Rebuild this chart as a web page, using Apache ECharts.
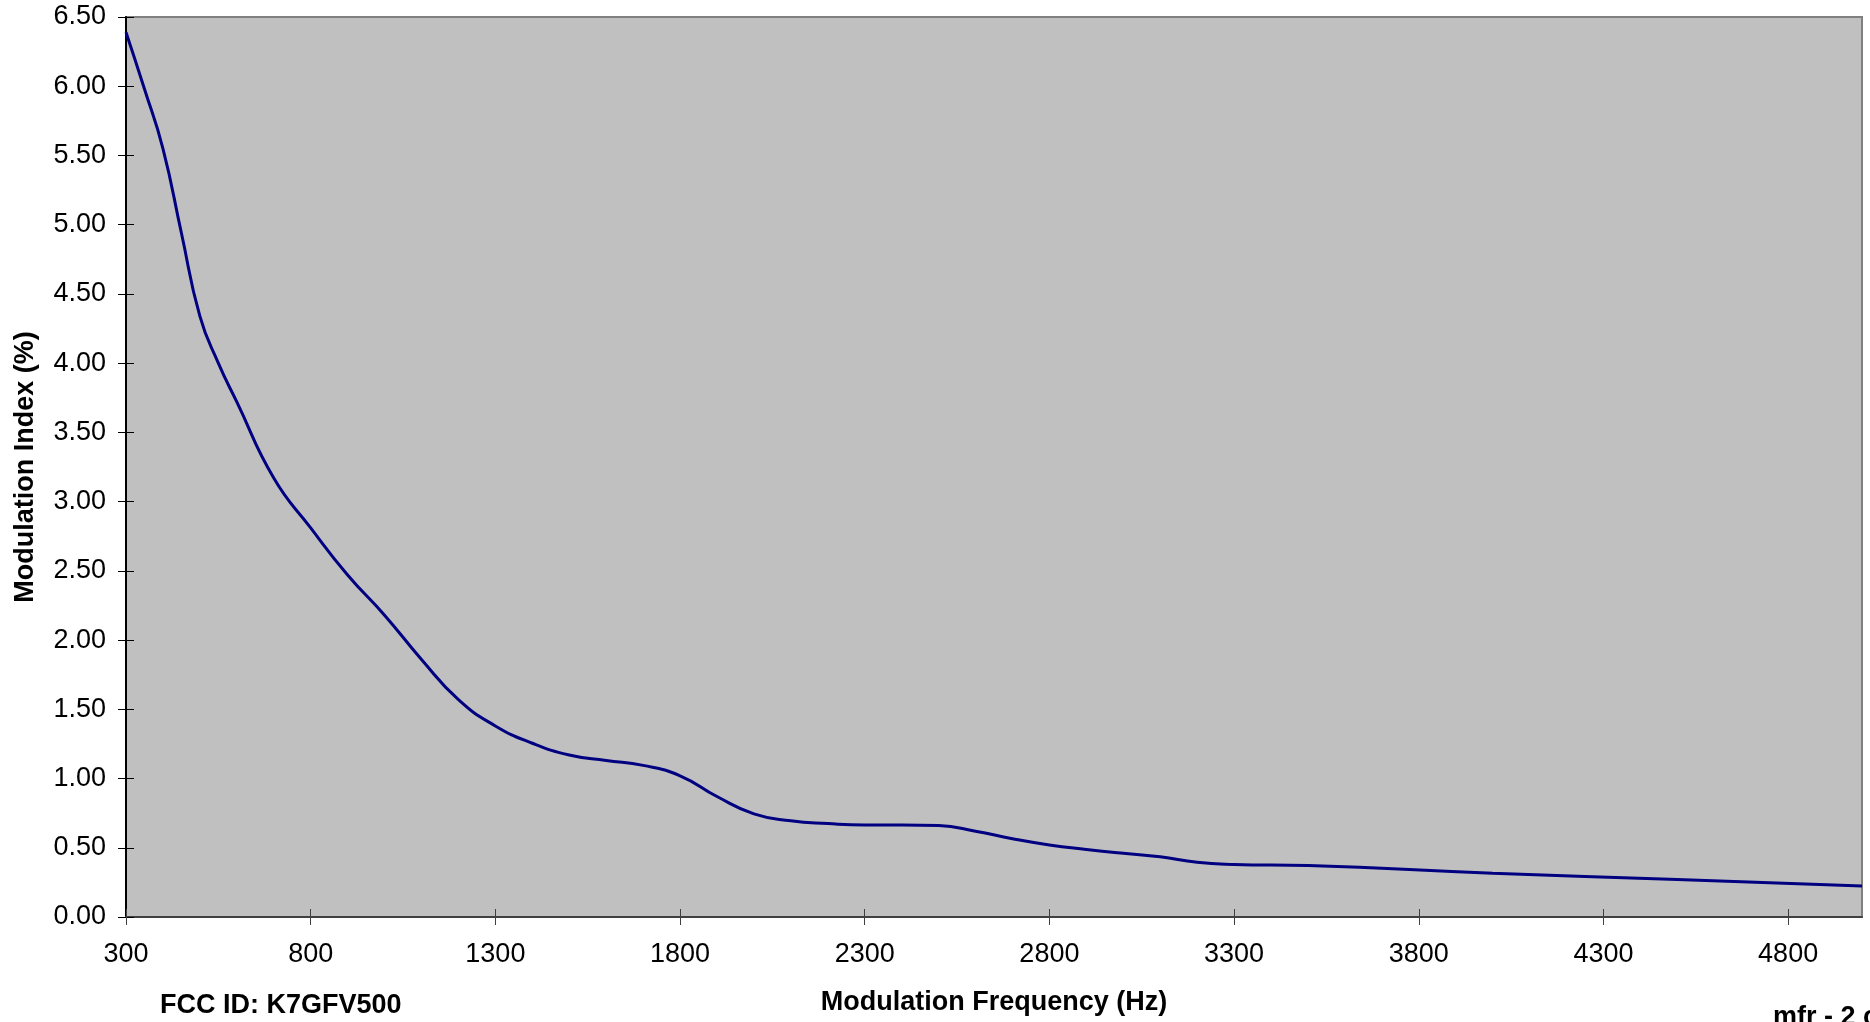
<!DOCTYPE html>
<html>
<head>
<meta charset="utf-8">
<script src="https://cdn.jsdelivr.net/npm/echarts@6/dist/echarts.min.js"></script>
<style>
  html, body { margin: 0; padding: 0; background: #ffffff; }
  #chart { width: 1870px; height: 1022px; }
</style>
</head>
<body>
<div id="chart"></div>
<script>
// Data
const frequencies = [300, 350, 400, 450, 500, 550, 600, 700, 800, 900, 1000, 1100, 1200, 1300, 1400, 1500, 1600, 1700, 1800, 1900, 2000, 2100, 2200, 2300, 2400, 2500, 2600, 2700, 2800, 2900, 3000, 3100, 3200, 3300, 3500, 4000, 4500, 5000];
const modulationIndex = [6.39, 5.98, 5.55, 4.94, 4.34, 4.0, 3.72, 3.17, 2.81, 2.47, 2.18, 1.86, 1.57, 1.38, 1.255, 1.17, 1.13, 1.095, 1.02, 0.87, 0.745, 0.695, 0.675, 0.665, 0.665, 0.66, 0.62, 0.565, 0.52, 0.488, 0.46, 0.435, 0.395, 0.38, 0.372, 0.316, 0.27, 0.224];
const xTickValues = [300, 800, 1300, 1800, 2300, 2800, 3300, 3800, 4300, 4800];
const yTickValues = [0, 0.5, 1, 1.5, 2, 2.5, 3, 3.5, 4, 4.5, 5, 5.5, 6, 6.5];
const xTitle = 'Modulation Frequency (Hz)';
const yTitle = 'Modulation Index (%)';
const footLeft = 'FCC ID: K7GFV500';
const footRight = 'mfr - 2 of 2';

const FONT = '"Liberation Sans", Arial, Helvetica, sans-serif';
const chart = echarts.init(document.getElementById('chart'), null, { renderer: 'canvas' });

const seriesData = frequencies.map((f, i) => [f, modulationIndex[i]]);

chart.setOption({
  animation: false,
  backgroundColor: '#ffffff',
  textStyle: { fontFamily: FONT },
  grid: {
    left: 126, right: 8, top: 17, bottom: 105,
    containLabel: false,
    outerBoundsMode: 'none',
    show: true,
    backgroundColor: '#c0c0c0',
    borderColor: '#808080',
    borderWidth: 2
  },
  xAxis: [{
    type: 'value',
    min: 300, max: 5000, interval: 500,
    position: 'bottom',
    name: xTitle,
    nameLocation: 'middle',
    nameGap: 72,
    nameTextStyle: { fontFamily: FONT, fontSize: 27, fontWeight: 'bold', color: '#000' },
    axisLine: { show: true, onZero: false, lineStyle: { color: '#404040', width: 2 } },
    axisTick: { show: true, inside: false, length: 8, customValues: xTickValues, lineStyle: { color: '#404040', width: 1 } },
    axisLabel: { show: true, customValues: xTickValues, margin: 24, fontFamily: FONT, fontSize: 27, color: '#000',
      formatter: v => String(v) },
    splitLine: { show: false }
  }, {
    type: 'value',
    min: 300, max: 5000, interval: 500,
    position: 'bottom',
    axisLine: { show: false },
    axisTick: { show: true, inside: true, length: 8, customValues: xTickValues, lineStyle: { color: '#404040', width: 1 } },
    axisLabel: { show: false },
    splitLine: { show: false }
  }],
  yAxis: [{
    type: 'value',
    min: 0, max: 6.5, interval: 0.5,
    position: 'left',
    name: yTitle,
    nameLocation: 'middle',
    nameGap: 87,
    nameTextStyle: { fontFamily: FONT, fontSize: 27, fontWeight: 'bold', color: '#000' },
    axisLine: { show: true, onZero: false, lineStyle: { color: '#000', width: 2 } },
    axisTick: { show: true, inside: false, length: 8, customValues: yTickValues, lineStyle: { color: '#000', width: 1 } },
    axisLabel: { show: true, margin: 20, fontFamily: FONT, fontSize: 27, color: '#000',
      formatter: v => v.toFixed(2) },
    splitLine: { show: false }
  }, {
    type: 'value',
    min: 0, max: 6.5, interval: 0.5,
    position: 'left',
    axisLine: { show: false },
    axisTick: { show: true, inside: true, length: 8, customValues: yTickValues, lineStyle: { color: '#000', width: 1 } },
    axisLabel: { show: false },
    splitLine: { show: false }
  }],
  series: [{
    type: 'line',
    xAxisIndex: 0,
    yAxisIndex: 0,
    data: seriesData,
    smooth: 0.5,
    showSymbol: false,
    symbol: 'none',
    lineStyle: { color: '#000080', width: 3 },
    clip: true
  }],
  graphic: [{
    type: 'text',
    left: 160,
    top: 992,
    style: { text: footLeft, fontFamily: FONT, fontSize: 27, fontWeight: 'bold', fill: '#000' }
  }, {
    type: 'text',
    left: 1773,
    top: 1004,
    style: { text: footRight, fontFamily: FONT, fontSize: 27, fontWeight: 'bold', fill: '#000' }
  }]
});
</script>
</body>
</html>
